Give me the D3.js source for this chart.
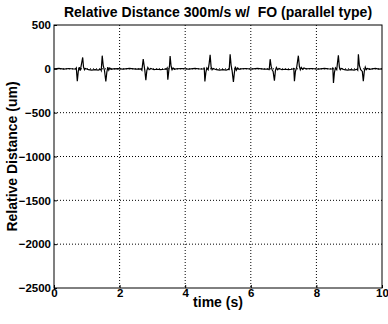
<!DOCTYPE html>
<html>
<head>
<meta charset="utf-8">
<script src="https://cdn.jsdelivr.net/npm/d3@7"></script>
<style>
  body { margin: 0; background: #fff; }
  text { font-family: "Liberation Sans", Arial, sans-serif; font-weight: bold; fill: #000; }
</style>
</head>
<body>
<svg width="388" height="324"></svg>
<script>
// data
var xTicks = [0, 2, 4, 6, 8, 10];
var yTicks = [500, 0, -500, -1000, -1500, -2000, -2500];

var time = [
  0, 0.15, 0.3, 0.45, 0.6, 0.66,
  0.68, 0.71, 0.74, 0.77, 0.80, 0.84, 0.875, 0.90, 0.93, 0.96,
  1.05, 1.15, 1.25, 1.35, 1.42,
  1.44, 1.47, 1.50, 1.54, 1.58, 1.61, 1.64, 1.67, 1.70, 1.74, 1.80,
  1.95, 2.1, 2.3, 2.5, 2.65,
  2.68, 2.72, 2.75, 2.77, 2.80, 2.83, 2.86, 2.90, 2.95,
  3.05, 3.15, 3.25, 3.35, 3.43,
  3.45, 3.47, 3.50, 3.52, 3.54, 3.57, 3.60, 3.63, 3.67, 3.72,
  3.9, 4.1, 4.3, 4.45, 4.57,
  4.58, 4.60, 4.63, 4.66, 4.70, 4.73, 4.76, 4.79, 4.82, 4.85,
  4.95, 5.05, 5.15, 5.25, 5.33,
  5.34, 5.37, 5.40, 5.43, 5.47, 5.50, 5.53, 5.56, 5.60, 5.64, 5.70,
  5.85, 6.0, 6.2, 6.4, 6.55,
  6.56, 6.59, 6.62, 6.65, 6.68, 6.72, 6.75, 6.78, 6.82, 6.86,
  6.95, 7.05, 7.15, 7.25, 7.30,
  7.31, 7.33, 7.36, 7.40, 7.45, 7.48, 7.51, 7.54, 7.58, 7.62, 7.68,
  7.85, 8.05, 8.25, 8.4, 8.49,
  8.50, 8.52, 8.55, 8.58, 8.62, 8.64, 8.67, 8.70, 8.73, 8.76,
  8.85, 8.95, 9.05, 9.15, 9.24,
  9.26, 9.28, 9.31, 9.35, 9.40, 9.43, 9.46, 9.49, 9.52, 9.56, 9.62, 9.7,
  9.8, 9.9, 10
];
var distance = [
  0, 5, -3, 4, -2, 0,
  10, -140, -30, 20, -20, 60, 130, 20, -10, 5,
  -10, -15, -10, -15, -5,
  -20, 150, 40, -20, -145, -40, 20, -15, 10, -5, 0,
  3, -4, 5, -3, 0,
  -15, 110, 30, -20, -130, -20, 15, -10, 5,
  -10, -5, -10, -5, 0,
  10, -125, -20, 30, 145, 30, -10, 10, -5, 0,
  4, -3, 5, -2, 0,
  15, -145, -40, 10, -10, 60, 160, 20, -10, 5,
  -10, -15, -10, -15, -5,
  -15, 165, 40, -20, -150, -40, 25, -15, 10, -5, 0,
  4, -3, 5, -3, 0,
  -15, 110, 30, -10, -30, -135, -20, 15, -10, 5,
  -10, -5, -10, -5, 0,
  10, -140, -30, 20, 150, 30, -10, 15, -5, 10, 0,
  4, -3, 5, -2, 0,
  15, -160, -40, 10, -10, 60, 155, 20, -10, 5,
  -10, -15, -10, -15, -5,
  -15, 165, 40, -10, -30, -140, -30, 20, -10, 5, -5, 0,
  5, -3, 0
];

var svg = d3.select("svg"),
    margin = {top: 25, right: 6, bottom: 36, left: 54},
    width = +svg.attr("width") - margin.left - margin.right,
    height = +svg.attr("height") - margin.top - margin.bottom;

var g = svg.append("g").attr("transform", "translate(" + margin.left + "," + margin.top + ")");

var x = d3.scaleLinear().domain([0, 10]).range([0, width]);
var y = d3.scaleLinear().domain([-2500, 500]).range([height, 0]);

// dotted grid
g.append("g")
    .selectAll("line")
    .data(xTicks.slice(1, -1))
    .join("line")
    .attr("x1", d => x(d)).attr("x2", d => x(d))
    .attr("y1", 0).attr("y2", height)
    .attr("stroke", "#000")
    .attr("stroke-width", 1)
    .attr("stroke-dasharray", "1,2");

g.append("g")
    .selectAll("line")
    .data(yTicks.slice(1, -1))
    .join("line")
    .attr("x1", 0).attr("x2", width)
    .attr("y1", d => y(d)).attr("y2", d => y(d))
    .attr("stroke", "#000")
    .attr("stroke-width", 1)
    .attr("stroke-dasharray", "1,2");

// axes
var xAxis = g.append("g")
    .attr("transform", "translate(0," + height + ")")
    .call(d3.axisBottom(x).tickValues(xTicks).tickSize(-3).tickPadding(3).tickFormat(d3.format("d")));
var yAxis = g.append("g")
    .call(d3.axisLeft(y).tickValues(yTicks).tickSize(-3).tickPadding(3).tickFormat(d3.format("d")));

[xAxis, yAxis].forEach(a => {
  a.select(".domain").remove();
  a.selectAll("line").attr("stroke", "#000");
  a.selectAll("text").style("font-size", "11.5px").style("font-family", "'Liberation Sans', Arial, sans-serif").style("font-weight", "bold");
});
xAxis.selectAll("text").attr("dy", "0.55em");

// box
g.append("rect")
    .attr("width", width).attr("height", height)
    .attr("fill", "none").attr("stroke", "#000").attr("stroke-width", 1);

// signal
var line = d3.line()
    .x((d, i) => x(time[i]))
    .y(d => y(d));

g.append("path")
    .datum(distance)
    .attr("fill", "none")
    .attr("stroke", "#000")
    .attr("stroke-width", 1.2)
    .attr("d", line);

// titles
svg.append("text")
    .attr("x", margin.left + width / 2).attr("y", 17)
    .attr("text-anchor", "middle")
    .style("font-size", "14px")
    .style("white-space", "pre")
    .text("Relative Distance 300m/s w/  FO (parallel type)");

svg.append("text")
    .attr("x", margin.left + width / 2).attr("y", 307)
    .attr("text-anchor", "middle")
    .style("font-size", "14px")
    .text("time (s)");

svg.append("text")
    .attr("transform", "translate(17," + (margin.top + height / 2) + ") rotate(-90)")
    .attr("text-anchor", "middle")
    .style("font-size", "14px")
    .text("Relative Distance (um)");
</script>
</body>
</html>
